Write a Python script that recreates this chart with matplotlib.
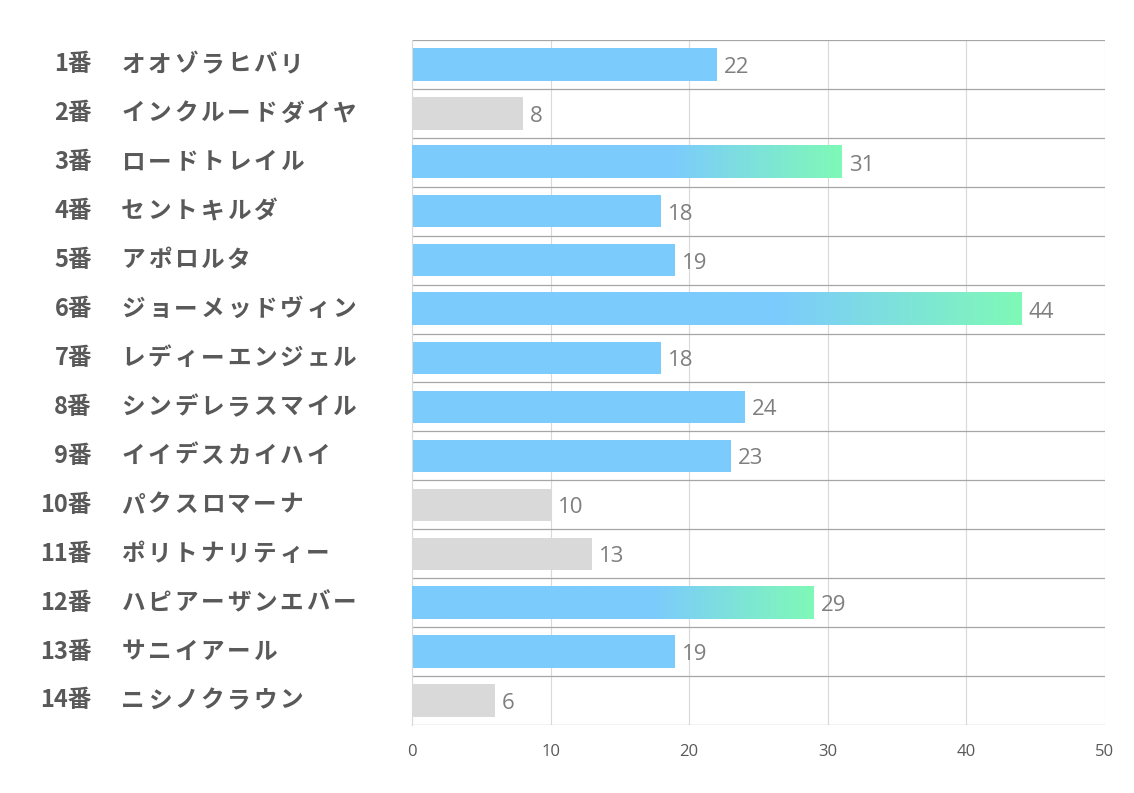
import numpy as np
import matplotlib.pyplot as plt
from matplotlib.colors import LinearSegmentedColormap

plt.rcParams['font.family'] = ['Noto Sans CJK JP', 'DejaVu Sans']

# data
numbers = ["1番", "2番", "3番", "4番", "5番", "6番", "7番", "8番", "9番", "10番", "11番", "12番", "13番", "14番"]
names = ["オオゾラヒバリ", "インクルードダイヤ", "ロードトレイル", "セントキルダ", "アポロルタ",
         "ジョーメッドヴィン", "レディーエンジェル", "シンデレラスマイル", "イイデスカイハイ",
         "パクスロマーナ", "ポリトナリティー", "ハピアーザンエバー", "サニイアール", "ニシノクラウン"]
values = [22, 8, 31, 18, 19, 44, 18, 24, 23, 10, 13, 29, 19, 6]
kinds = ["blue", "gray", "grad", "blue", "blue", "grad", "blue", "blue", "blue",
         "gray", "gray", "grad", "blue", "gray"]
xticks = [0, 10, 20, 30, 40, 50]

blue = "#7CCBFD"
green = "#7FF9B7"
gray = "#D9D9D9"
colors = {"blue": blue, "gray": gray, "grad": blue}

fig = plt.figure(figsize=(11.34, 7.93), dpi=100)
ax = fig.add_axes([0.3633, 0.0858, 0.6111, 0.8638])

y = np.arange(len(values))
bh = 0.66
bars = ax.barh(y, values, height=bh, color=[colors[k] for k in kinds], zorder=2)

# gradient fill for the top bars
cmap = LinearSegmentedColormap.from_list("g", [(0, blue), (0.6, blue), (1, green)])
grad = np.linspace(0, 1, 256).reshape(1, -1)
for b, k in zip(bars, kinds):
    if k == "grad":
        x0, yb = b.get_x(), b.get_y()
        ax.imshow(grad, cmap=cmap, aspect='auto', zorder=3,
                  extent=(x0, x0 + b.get_width(), yb + b.get_height(), yb))

for yi, v in zip(y, values):
    ax.text(v + 0.5, yi + 0.06, str(v), va='center', ha='left', fontsize=16,
            color="#7F7F7F", family=['Open Sans', 'DejaVu Sans'])

# row labels: number, then name with wide full-width spacing
tr = ax.get_yaxis_transform()
pitch = 26.4 / 693
for yi, n, nm in zip(y, numbers, names):
    ax.text(-0.4618, yi, n, transform=tr, ha='right', va='center',
            fontsize=17, fontweight='bold', color="#595959")
    for i, ch in enumerate(nm):
        ax.text(-0.4214 + (i + 0.5) * pitch, yi, ch, transform=tr, ha='center', va='center',
                fontsize=17, fontweight='bold', color="#595959")

ax.set_xlim(0, 50)
ax.set_ylim(len(values) - 0.5, -0.5)
ax.set_xticks(xticks)
ax.set_xticklabels([str(t) for t in xticks], fontsize=12, color="#595959",
                   family=['Open Sans', 'DejaVu Sans'])
ax.set_yticks([])
ax.tick_params(axis='x', length=0, pad=14)
ax.xaxis.grid(True, color="#D9D9D9", linewidth=0.8, zorder=0)
for yb in np.arange(-0.5, len(values), 1.0):
    ax.axhline(yb, color="#A6A6A6", linewidth=0.9, zorder=1)
for s in ['top', 'right', 'bottom']:
    ax.spines[s].set_visible(False)
ax.spines['left'].set_color("#D9D9D9")
ax.set_axisbelow(True)

fig.savefig("out.png", dpi=100, facecolor='white')
